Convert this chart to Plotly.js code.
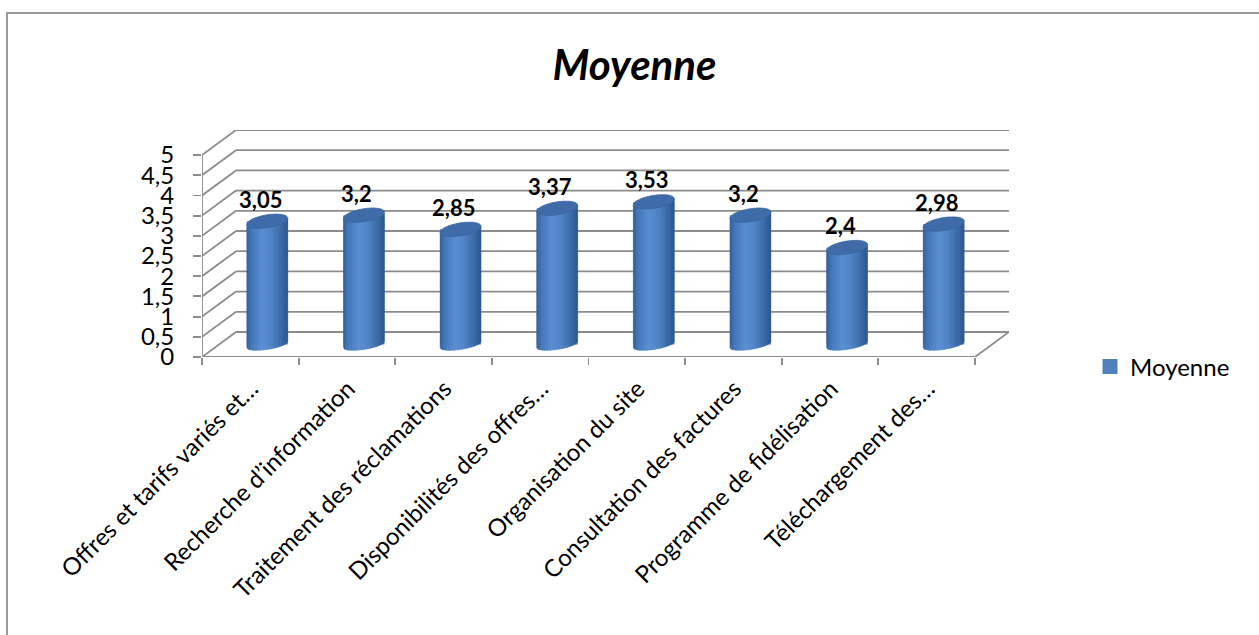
<!DOCTYPE html>
<html>
<head>
<meta charset="utf-8">
<script src="https://cdn.plot.ly/plotly-3.0.1.min.js"></script>
<style>
  html, body { margin: 0; padding: 0; background: #ffffff; overflow: hidden; }
  #frame { position: absolute; left: 6px; top: 12px; width: 1400px; height: 800px;
           border: 2px solid #9a9a9a; box-sizing: border-box; }
  #chart { position: absolute; left: 0; top: 0; width: 1259px; height: 635px; }
</style>
</head>
<body>
<div id="frame"></div>
<div id="chart"></div>
<script>
// Mean score per criterion
const categories = [
  "Offres et tarifs variés et…",
  "Recherche d’information",
  "Traitement des réclamations",
  "Disponibilités des offres…",
  "Organisation du site",
  "Consultation des factures",
  "Programme de fidélisation",
  "Téléchargement des…"
];
const moyennes = [3.05, 3.2, 2.85, 3.37, 3.53, 3.2, 2.4, 2.98];
const yTicks = [0, 0.5, 1, 1.5, 2, 2.5, 3, 3.5, 4, 4.5, 5];
const yTickText = yTicks.map(v => String(v).replace('.', ','));
const seriesName = "Moyenne";

// Page / plot geometry
const W = 1259, H = 635;
const M = { l: 202, r: 250, t: 130, b: 278 };
const N = categories.length;
const DX = 0.352;               // depth of the 3D box, in category units
const DY = 0.619;               // depth of the 3D box, in value units
const yMax = yTicks[yTicks.length - 1];
const pxX = (W - M.l - M.r) / (N + DX);
const pxY = (H - M.t - M.b) / (yMax + DY);

// Cylinder look
const RAD_PX = 20.5, TOP_B_PX = 6.5, BOT_B_PX = 5, TILT = 0.15;
const a = RAD_PX / pxX;
const bTop = TOP_B_PX / pxY, bBot = BOT_B_PX / pxY;
const tilt = u => (u * pxX * TILT) / pxY;
const baseY = DY / 2;
const centers = categories.map((c, i) => i + 0.5 + DX / 2);
const labelPos = categories.map((c, i) => i + 0.5 + 0.01);

const grid = '#8c8c8c';
const shapes = [];
const line = (x0, y0, x1, y1) => shapes.push({
  type: 'line', xref: 'x', yref: 'y', x0, y0, x1, y1, layer: 'below',
  line: { color: grid, width: 1.8 }
});

// Back wall and side wall grid
yTicks.forEach(v => {
  line(DX, v + DY, N + DX, v + DY);
  line(0, v, DX, v + DY);
});
// Front value axis, floor edges
line(0, 0, 0, yMax);
line(0, 0, N, 0);
line(N, 0, N + DX, DY);

// Side shading of each cylinder
const stops = [
  [0.00, [0x33, 0x5f, 0x9b]],
  [0.12, [0x45, 0x78, 0xb9]],
  [0.38, [0x5a, 0x8f, 0xd4]],
  [0.58, [0x52, 0x86, 0xc9]],
  [0.82, [0x3e, 0x6d, 0xaa]],
  [1.00, [0x2c, 0x58, 0x8f]]
];
function shade(t) {
  for (let k = 1; k < stops.length; k++) {
    if (t <= stops[k][0]) {
      const [t0, c0] = stops[k - 1], [t1, c1] = stops[k];
      const f = (t - t0) / (t1 - t0);
      const c = c0.map((v, j) => Math.round(v + (c1[j] - v) * f));
      return `rgb(${c[0]},${c[1]},${c[2]})`;
    }
  }
  const c = stops[stops.length - 1][1];
  return `rgb(${c[0]},${c[1]},${c[2]})`;
}

const NS = 28;
moyennes.forEach((v, i) => {
  const cx = centers[i];
  const topY = baseY + v;
  const yb = u => baseY + tilt(u) - bBot * Math.sqrt(Math.max(0, 1 - (u / a) ** 2));
  const yt = u => topY + tilt(u);
  for (let k = 0; k < NS; k++) {
    const u0 = -a + 2 * a * k / NS;
    const u1 = Math.min(a, u0 + 2 * a / NS * 1.2);
    const col = shade((k + 0.5) / NS);
    // bottom edge follows the lower rim, sampled finely to keep it smooth
    const bottom = [];
    for (let s = 0; s <= 3; s++) {
      const u = u0 + (u1 - u0) * s / 3;
      bottom.push(`${cx + u},${yb(u)}`);
    }
    shapes.push({
      type: 'path', xref: 'x', yref: 'y', layer: 'above',
      path: 'M' + bottom.join(' L') + ` L${cx + u1},${yt(u1)} L${cx + u0},${yt(u0)} Z`,
      fillcolor: col, line: { color: col, width: 0.4 }
    });
  }
  // top cap
  const pts = [];
  for (let s = 0; s <= 48; s++) {
    const th = 2 * Math.PI * s / 48;
    const u = a * Math.cos(th);
    pts.push(`${cx + u},${topY + tilt(u) + bTop * Math.sin(th)}`);
  }
  shapes.push({
    type: 'path', xref: 'x', yref: 'y', layer: 'above',
    path: 'M' + pts.join(' L') + ' Z',
    fillcolor: '#3f6ca8', line: { color: '#3a66a0', width: 0.8 }
  });
});

// Value labels
const annotations = moyennes.map((v, i) => ({
  x: centers[i], y: baseY + v, xref: 'x', yref: 'y',
  text: '<b>' + String(v).replace('.', ',') + '</b>',
  showarrow: false, xshift: -7, yshift: 22, yanchor: 'middle',
  font: { family: 'Lato, sans-serif', size: 22, color: '#000000' }
}));

const traces = [
  {
    type: 'bar', name: seriesName, x: centers, y: moyennes, base: baseY,
    width: 2 * a, marker: { color: '#4F81BD' }, xaxis: 'x', yaxis: 'y',
    hoverinfo: 'skip', showlegend: false
  },
  {
    // legend entry of the series
    type: 'scatter', mode: 'markers', name: seriesName, x: [null], y: [null],
    marker: { symbol: 'square', size: 15, color: '#4F81BD' },
    xaxis: 'x', yaxis: 'y', hoverinfo: 'skip'
  },
  {
    type: 'scatter', mode: 'none', x: labelPos, y: moyennes,
    xaxis: 'x2', yaxis: 'y', showlegend: false, hoverinfo: 'skip'
  }
];

const layout = {
  width: W, height: H,
  margin: M,
  paper_bgcolor: 'rgba(0,0,0,0)',
  plot_bgcolor: 'rgba(0,0,0,0)',
  hovermode: false,
  showlegend: true,
  font: { family: 'Lato, sans-serif', color: '#000000' },
  title: {
    text: '<b><i>Moyenne</i></b>',
    xref: 'container', yref: 'container', x: 0.504, y: 1 - 65 / H,
    xanchor: 'center', yanchor: 'middle',
    font: { family: 'Lato, sans-serif', size: 42, color: '#000000' }
  },
  xaxis: {
    range: [0, N + DX], tickvals: categories.map((c, i) => i).concat([N]),
    showticklabels: false, ticks: 'outside', ticklen: 7, tickwidth: 1.8,
    tickcolor: grid, showgrid: false, zeroline: false, showline: false, fixedrange: true
  },
  xaxis2: {
    overlaying: 'x', anchor: 'y', side: 'bottom', range: [0, N + DX],
    tickvals: labelPos, ticktext: categories, tickangle: -45, ticks: '',
    ticklabelstandoff: 12,
    showgrid: false, zeroline: false, showline: false,
    tickfont: { family: 'Lato, sans-serif', size: 24, color: '#000000' }
  },
  yaxis: {
    range: [0, yMax + DY], tickvals: yTicks, ticktext: yTickText,
    ticks: 'outside', ticklen: 8, tickwidth: 1.8, tickcolor: grid,
    ticklabelstandoff: 14,
    showgrid: false, zeroline: false, showline: false,
    tickfont: { family: 'Lato, sans-serif', size: 24, color: '#000000' }
  },
  legend: {
    x: (1090 - M.l) / (W - M.l - M.r), xanchor: 'left',
    y: -10 / (H - M.t - M.b), yanchor: 'middle',
    font: { family: 'Lato, sans-serif', size: 24, color: '#000000' },
    bgcolor: 'rgba(0,0,0,0)'
  },
  shapes, annotations
};

Plotly.newPlot('chart', traces, layout, { displayModeBar: false, staticPlot: true });
</script>
</body>
</html>
